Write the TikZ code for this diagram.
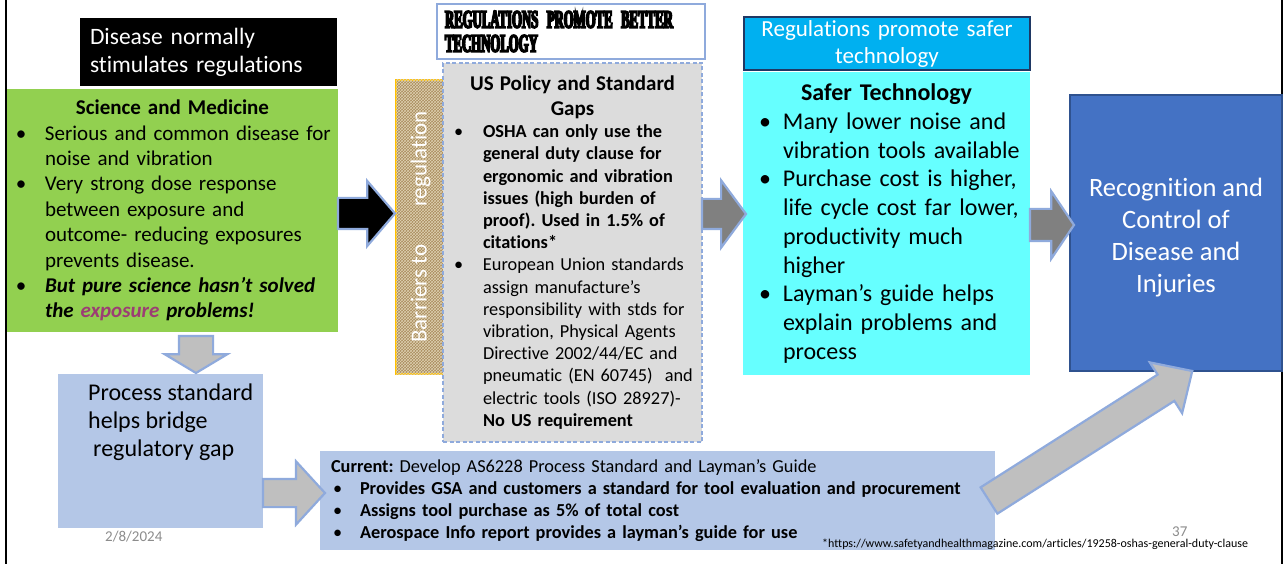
\documentclass[tikz,border=0pt]{standalone}
\usepackage{fontspec}
\setmainfont{Carlito}[Ligatures=NoCommon]
\newfontfamily\headfont[FakeStretch=0.5,FakeBold=6]{Liberation Serif}
\usetikzlibrary{shapes.arrows,patterns}

\definecolor{sciencegreen}{HTML}{92D050}
\definecolor{safercyan}{HTML}{66FFFF}
\definecolor{headblue}{HTML}{00B0F0}
\definecolor{headline}{HTML}{1F3864}
\definecolor{recogblue}{HTML}{4472C4}
\definecolor{recogline}{HTML}{2F528F}
\definecolor{paleblue}{HTML}{B4C7E7}
\definecolor{arrowline}{HTML}{8FAADC}
\definecolor{lightarrow}{HTML}{BFBFBF}
\definecolor{darkarrow}{HTML}{808080}
\definecolor{burlap}{HTML}{A88B5C}
\definecolor{burlapthread}{HTML}{D6C49C}
\definecolor{barrierline}{HTML}{FFC000}
\definecolor{marble}{HTML}{DCDCDC}
\definecolor{exposure}{HTML}{9C3D74}
\definecolor{slidegray}{HTML}{8C8C8C}

\setlength{\parindent}{0pt}
\frenchspacing
% bullet paragraphs with a hanging indent (lines broken with \newline)
\newlength\bindent
\newlength\bgap
\newcommand{\bitem}[1]{\par\hangindent=\bindent\hangafter=1\noindent\makebox[\bindent][l]{\hspace{\bgap}\textbullet}#1\par}

\begin{document}
\begin{tikzpicture}[x=1pt,y=-1pt,
    box/.style={anchor=north west, inner ysep=0pt, outer sep=0pt, align=left},
    flow/.style={single arrow, draw=arrowline, line width=2.2pt, inner xsep=0pt, outer sep=0pt, anchor=tail},
    note/.style={text=slidegray, font=\fontsize{15}{18}\selectfont, inner sep=0pt, anchor=base west}]

  \useasboundingbox[fill=white] (0,0) rectangle (1285,564);
  \draw[line width=2pt] (6,0) -- (6,564) (1282,0) -- (1282,564);

  % left column
  \node[box, fill=black, text=white, minimum width=257pt, minimum height=68pt, inner xsep=10pt, text width=237pt,
        font=\fontsize{23.5}{28}\selectfont] (disease) at (80,18) {Disease normally\\stimulates regulations};

  \node[box, fill=sciencegreen, minimum width=331pt, minimum height=243pt, inner xsep=4pt, text width=323pt,
        font=\fontsize{21}{25.4}\selectfont,
        execute at begin node={\setlength\bindent{34pt}\setlength\bgap{5pt}}] (science) at (7,89) {%
    {\centering\bfseries Science and Medicine\par}
    \bitem{Serious and common disease for\newline noise and vibration}
    \bitem{Very strong dose response\newline between exposure and\newline outcome- reducing exposures\newline prevents disease.}
    \bitem{\textbf{\textit{But pure science hasn’t solved\newline the \textcolor{exposure}{exposure} problems!}}}};

  \node[box, fill=paleblue, minimum width=205pt, minimum height=154pt] (process) at (58,374) {};
  \node[anchor=north west, inner sep=0pt, align=left, font=\fontsize{24}{28}\selectfont] (processtext) at (88,384)
    {Process standard\\helps bridge\\\hspace*{5pt}regulatory gap};

  % middle column
  \node[box, draw=arrowline, line width=1.8pt, fill=white, minimum width=268pt, minimum height=55pt, inner xsep=8pt,
        text width=252pt, font=\headfont\bfseries\fontsize{25.5}{24}\selectfont] (bettertech) at (437,4)
    {REGULATIONS PROMOTE BETTER\\TECHNOLOGY};

  \node[box, draw=barrierline, line width=1.5pt, fill=burlap, minimum width=49pt, minimum height=294pt,
        postaction={pattern=crosshatch, pattern color=burlapthread!80}] (barrier) at (396,80) {};
  \node[rotate=90, text=white, inner sep=0pt, font=\fontsize{23}{27}\selectfont] (barriertext) at (barrier.center)
    {Barriers to\hspace{38pt}regulation};

  \node[box, fill=marble, draw=arrowline, line width=1.5pt, dash pattern=on 4pt off 2.5pt, minimum width=259pt,
        minimum height=379pt, inner xsep=4pt, text width=251pt, font=\fontsize{18.3}{22.2}\selectfont,
        execute at begin node={\setlength\bindent{36pt}\setlength\bgap{7pt}}] (policy) at (443,63) {%
    {\centering\bfseries\fontsize{21}{25}\selectfont US Policy and Standard\\Gaps\par}
    \bitem{\textbf{OSHA can only use the\newline general duty clause for\newline ergonomic and vibration\newline issues (high burden of\newline proof). Used in 1.5\% of\newline citations*}}
    \bitem{European Union standards\newline assign manufacture’s\newline responsibility with stds for\newline vibration, Physical Agents\newline Directive 2002/44/EC and\newline pneumatic (EN 60745)~ and\newline electric tools (ISO 28927)-\newline \textbf{No US requirement}}};

  \node[box, fill=paleblue, minimum width=675pt, minimum height=99pt, inner xsep=11pt, text width=653pt,
        font=\fontsize{18.3}{22}\selectfont,
        execute at begin node={\setlength\bindent{29pt}\setlength\bgap{2pt}}] (current) at (320,451) {%
    \textbf{Current:} Develop AS6228 Process Standard and Layman’s Guide
    \bitem{\textbf{Provides GSA and customers a standard for tool evaluation and procurement}}
    \bitem{\textbf{Assigns tool purchase as 5\% of total cost}}
    \bitem{\textbf{Aerospace Info report provides a layman’s guide for use}}};

  % right column
  \node[box, fill=headblue, draw=headline, line width=1.5pt, minimum width=286pt, minimum height=53pt, inner xsep=3pt,
        text width=280pt, align=center, text=white, font=\fontsize{23}{27}\selectfont] (safehead) at (744,17)
    {Regulations promote safer\\technology};

  \node[box, fill=safercyan, minimum width=287pt, minimum height=303pt, inner xsep=4pt, text width=279pt,
        font=\fontsize{24}{28.7}\selectfont,
        execute at begin node={\setlength\bindent{36pt}\setlength\bgap{12pt}}] (safer) at (743,72) {%
    {\centering\bfseries Safer Technology\par}
    \bitem{Many lower noise and\newline vibration tools available}
    \bitem{Purchase cost is higher,\newline life cycle cost far lower,\newline productivity much\newline higher}
    \bitem{Layman’s guide helps\newline explain problems and\newline process}};

  \node[box, fill=recogblue, draw=recogline, line width=1.2pt, minimum width=212pt, minimum height=276pt] (recog) at (1070,95) {};
  \node[align=center, text=white, inner sep=0pt, font=\fontsize{26.5}{32}\selectfont] (recogtext) at ([yshift=-5pt]recog.center)
    {Recognition and\\Control of\\Disease and\\Injuries};

  % block arrows
  \node[flow, fill=black, minimum height=57pt, inner ysep=14.5pt, single arrow head extend=17pt,
        single arrow tip angle=99] (tobarrier) at ([yshift=-3pt]science.east) {};
  \node[flow, fill=darkarrow, minimum height=44pt, inner ysep=14pt, single arrow head extend=18.5pt,
        single arrow tip angle=107] (tosafer) at ([yshift=38.5pt]policy.east) {};
  \node[flow, fill=darkarrow, minimum height=44pt, inner ysep=15pt, single arrow head extend=17.5pt,
        single arrow tip angle=112] (torecog) at ([yshift=-1.5pt]safer.east) {};
  \node[flow, fill=lightarrow, rotate=-90, minimum height=37pt, inner ysep=16pt, single arrow head extend=14pt,
        single arrow tip angle=118] (toprocess) at ([xshift=23.5pt,yshift=-4pt]science.south) {};
  \node[flow, fill=lightarrow, minimum height=62pt, inner ysep=13pt, single arrow head extend=17.5pt,
        single arrow tip angle=95] (tocurrent) at ([yshift=-42pt]process.east) {};
  \node[flow, fill=lightarrow, rotate=32.5, minimum height=241pt, inner ysep=14.5pt, single arrow head extend=14.5pt,
        single arrow tip angle=88] (currenttorecog) at ([xshift=-6pt]current.east) {};

  % slide footer
  \node[note] (date) at (105,541) {2/8/2024};
  \node[note] (pagenum) at (1172,536) {37};
  \node[anchor=base west, inner sep=0pt, font=\fontsize{12}{14}\selectfont] (source) at (822,547)
    {*https://www.safetyandhealthmagazine.com/articles/19258-oshas-general-duty-clause};
\end{tikzpicture}
\end{document}
